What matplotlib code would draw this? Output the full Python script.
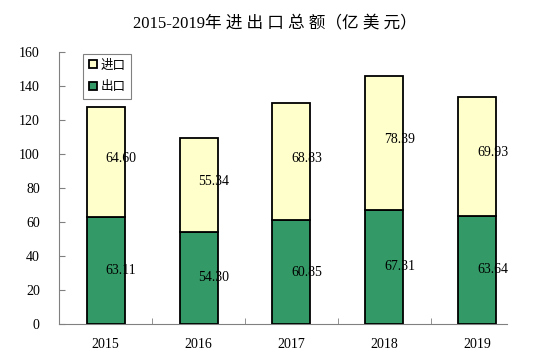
import numpy as np
import matplotlib.pyplot as plt

plt.rcParams['font.family'] = ['Liberation Serif', 'Noto Sans CJK SC']

years = ['2015', '2016', '2017', '2018', '2019']
exports = [63.11, 54.30, 60.85, 67.31, 63.64]
imports = [64.60, 55.34, 68.83, 78.39, 69.93]

green = '#339966'
yellow = '#FFFFCC'

fig = plt.figure(figsize=(5.49, 3.6), dpi=100)
ax = fig.add_axes([0.108, 0.1, 0.815, 0.756])

x = np.arange(len(years))
w = 0.41
b1 = ax.bar(x, exports, w, color=green, edgecolor='black', linewidth=1.3, label='出口', zorder=3)
b2 = ax.bar(x, imports, w, bottom=exports, color=yellow, edgecolor='black', linewidth=1.3,
            label='进口', zorder=3)

for i in range(len(years)):
    ax.text(x[i], exports[i] / 2, f'{exports[i]:.2f}', ha='left', va='center', fontsize=10, zorder=4)
    ax.text(x[i], exports[i] + imports[i] / 2 + 2, f'{imports[i]:.2f}', ha='left', va='center',
            fontsize=10, zorder=4)

ax.set_xlim(-0.5, 4.32)
ax.set_ylim(0, 160)
ax.set_yticks(range(0, 161, 20))
ax.set_xticks(x)
ax.set_xticklabels(years)
ax.set_xticks(np.arange(0.5, 4, 1), minor=True)
ax.tick_params(axis='x', which='major', length=0, pad=10, labelsize=10)
ax.tick_params(axis='x', which='minor', direction='in', length=4, color='#808080')
ax.tick_params(axis='y', direction='in', length=4, color='#808080', labelsize=10, pad=14)

for s in ['top', 'right']:
    ax.spines[s].set_visible(False)
for s in ['left', 'bottom']:
    ax.spines[s].set_color('#808080')

leg = ax.legend(handles=[b2, b1], loc='upper left', bbox_to_anchor=(0.04, 1.015),
                fontsize=9, handlelength=0.6, handleheight=0.6, handletextpad=0.3,
                borderpad=0.45, labelspacing=0.75, fancybox=False, edgecolor='#808080',
                framealpha=1)
leg.get_frame().set_linewidth(0.8)

fig.suptitle('2015-2019年 进 出 口 总 额（亿 美 元）', x=0.5, y=0.955, fontsize=12)

fig.savefig('out.png', dpi=100)
